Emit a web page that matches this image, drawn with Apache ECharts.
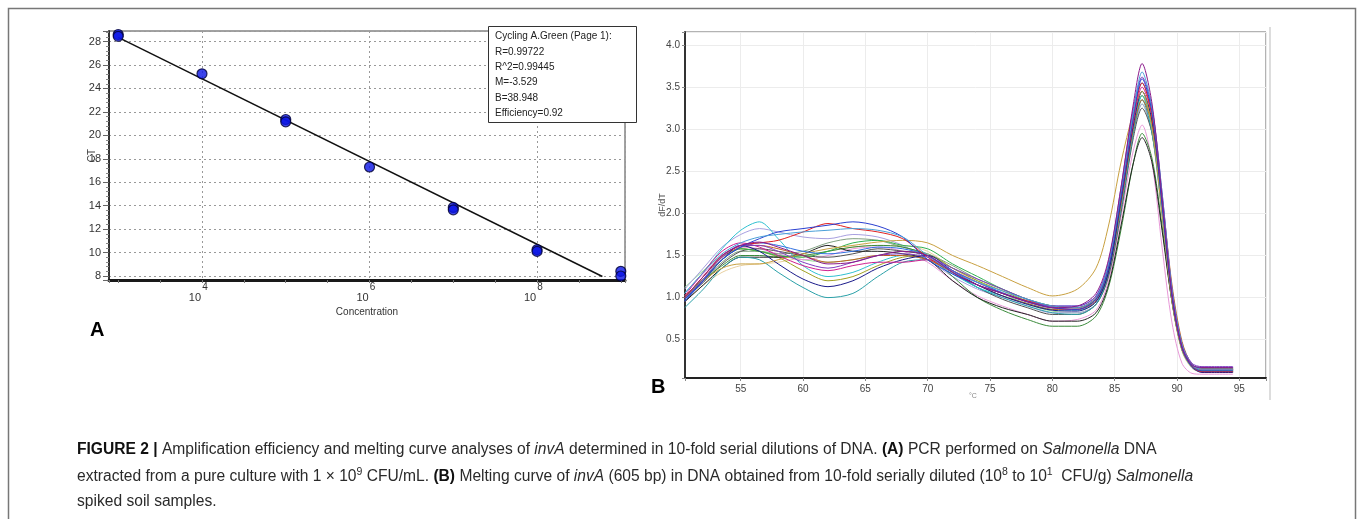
<!DOCTYPE html>
<html><head><meta charset="utf-8">
<script src="https://cdn.jsdelivr.net/npm/echarts@6/dist/echarts.min.js"></script>
<style>html,body{margin:0;padding:0;background:#fff}#c{width:1357px;height:519px}</style>
</head><body><div id="c"></div>
<script>
// ---------- Panel A: standard curve ----------
const A_LOG_CONC = [3, 3, 4, 5, 5, 6, 7, 7, 8, 8, 9, 9];
const A_CT = [28.6, 28.45, 25.25, 21.35, 21.15, 17.3, 13.85, 13.65, 10.25, 10.1, 8.4, 8.0];
const A_FIT_X = [3, 8.78];
const A_FIT_Y = [28.36, 7.96];
const A_BOX_LINES = ['Cycling A.Green (Page 1):', 'R=0.99722', 'R^2=0.99445', 'M=-3.529', 'B=38.948', 'Efficiency=0.92'];

// ---------- Panel B: melting curves ----------
const B_TEMP = [50.5, 52, 53.5, 55, 56.5, 58, 60, 62, 64, 66, 68, 70, 72, 74, 76, 78, 80, 82, 83.5, 84.5, 85.5, 86.5, 87.2, 88, 88.8, 89.6, 90.4, 91.2, 92, 93, 94.5];
const B_C01 = [1.0,1.25,1.5,1.62,1.66,1.6,1.5,1.4,1.42,1.5,1.55,1.5,1.3,1.15,1.05,0.95,0.88,0.9,1.05,1.45,2.3,3.3,3.78,3.3,2.2,1.05,0.42,0.2,0.17,0.17,0.17];
const B_C02 = [1.05,1.3,1.52,1.65,1.72,1.75,1.78,1.8,1.82,1.8,1.72,1.5,1.3,1.18,1.08,0.98,0.9,0.88,1.0,1.4,2.25,3.2,3.68,3.25,2.25,1.1,0.45,0.2,0.15,0.15,0.15];
const B_C03 = [0.98,1.2,1.45,1.6,1.7,1.78,1.82,1.86,1.9,1.85,1.72,1.45,1.28,1.15,1.05,0.95,0.88,0.86,0.98,1.35,2.2,3.15,3.6,3.2,2.1,1.0,0.4,0.18,0.13,0.13,0.13];
const B_C04 = [1.0,1.2,1.35,1.4,1.4,1.45,1.52,1.58,1.62,1.66,1.68,1.65,1.5,1.38,1.25,1.12,1.02,1.1,1.35,1.85,2.6,3.2,3.45,3.0,2.0,0.95,0.38,0.18,0.15,0.15,0.15];
const B_C05 = [1.05,1.3,1.58,1.8,1.9,1.7,1.38,1.25,1.3,1.42,1.5,1.45,1.28,1.12,1.02,0.93,0.86,0.85,0.95,1.3,2.1,3.0,3.4,3.0,2.05,1.0,0.4,0.18,0.14,0.14,0.14];
const B_C06 = [0.88,1.1,1.35,1.48,1.45,1.3,1.12,1.0,1.05,1.25,1.42,1.45,1.3,1.12,1.0,0.9,0.82,0.8,0.92,1.28,2.05,2.95,3.35,2.95,2.0,0.98,0.38,0.17,0.12,0.12,0.12];
const B_C07 = [0.95,1.15,1.35,1.48,1.48,1.48,1.52,1.62,1.55,1.55,1.52,1.45,1.2,1.0,0.88,0.8,0.72,0.72,0.82,1.15,1.85,2.6,2.9,2.6,1.8,0.95,0.4,0.2,0.16,0.16,0.16];
const B_C08 = [1.0,1.2,1.38,1.5,1.5,1.48,1.5,1.55,1.6,1.62,1.6,1.5,1.25,1.0,0.85,0.74,0.66,0.66,0.78,1.12,1.8,2.6,2.95,2.65,1.85,0.95,0.38,0.18,0.14,0.14,0.14];
const B_C09 = [1.0,1.25,1.5,1.62,1.65,1.68,1.78,1.88,1.82,1.78,1.7,1.48,1.3,1.15,1.05,0.96,0.9,0.88,1.0,1.38,2.25,3.15,3.55,3.15,2.15,1.02,0.4,0.18,0.12,0.12,0.12];
const B_C10 = [1.02,1.3,1.55,1.65,1.6,1.5,1.38,1.32,1.38,1.42,1.42,1.45,1.32,1.18,1.05,0.95,0.88,0.86,0.98,1.38,2.2,3.1,3.5,3.15,2.2,1.08,0.42,0.2,0.15,0.15,0.15];
const B_C11 = [0.95,1.2,1.45,1.62,1.55,1.4,1.22,1.13,1.2,1.35,1.45,1.5,1.32,1.15,1.02,0.92,0.85,0.84,0.95,1.3,2.15,3.05,3.45,3.1,2.15,1.05,0.42,0.18,0.11,0.11,0.11];
const B_C12 = [1.1,1.35,1.6,1.75,1.82,1.78,1.72,1.7,1.75,1.72,1.62,1.45,1.25,1.1,1.0,0.9,0.82,0.82,0.92,1.28,2.05,2.95,3.3,2.95,2.0,0.98,0.38,0.17,0.13,0.13,0.13];
const B_C13 = [1.05,1.28,1.5,1.6,1.58,1.52,1.45,1.5,1.58,1.6,1.55,1.42,1.2,1.02,0.9,0.8,0.72,0.74,0.85,1.2,1.95,2.75,3.05,2.6,1.6,0.7,0.22,0.1,0.09,0.09,0.09];
const B_C14 = [1.12,1.32,1.5,1.58,1.55,1.5,1.45,1.42,1.45,1.5,1.55,1.52,1.35,1.2,1.05,0.92,0.84,0.82,0.92,1.25,2.05,2.95,3.3,2.95,2.05,1.0,0.4,0.18,0.14,0.14,0.14];
const B_C15 = [0.95,1.15,1.3,1.38,1.4,1.42,1.48,1.55,1.6,1.62,1.62,1.55,1.35,1.18,1.05,0.95,0.88,0.88,1.0,1.35,2.2,3.05,3.35,2.95,1.95,0.95,0.36,0.16,0.12,0.12,0.12];
const B_C16 = [1.0,1.2,1.42,1.55,1.55,1.52,1.55,1.65,1.7,1.68,1.6,1.52,1.38,1.22,1.1,0.98,0.9,0.88,0.98,1.32,2.15,3.05,3.4,3.05,2.1,1.02,0.4,0.18,0.14,0.14,0.14];
const B_C17 = [0.98,1.22,1.48,1.62,1.62,1.55,1.42,1.35,1.42,1.5,1.52,1.48,1.35,1.22,1.1,0.98,0.9,0.9,1.02,1.42,2.3,3.25,3.62,3.25,2.25,1.1,0.45,0.22,0.18,0.18,0.18];
const B_C18 = [1.0,1.25,1.48,1.6,1.62,1.58,1.5,1.42,1.45,1.5,1.5,1.45,1.3,1.15,1.02,0.93,0.86,0.86,0.96,1.3,2.1,3.0,3.35,3.05,2.2,1.15,0.48,0.2,0.12,0.12,0.12];
const B_C19 = [1.02,1.22,1.45,1.58,1.55,1.48,1.32,1.2,1.25,1.38,1.48,1.5,1.35,1.2,1.08,0.96,0.88,0.86,0.98,1.35,2.2,3.1,3.4,3.05,2.1,1.02,0.4,0.18,0.13,0.13,0.13];
const B_C20 = [0.96,1.2,1.45,1.6,1.65,1.62,1.55,1.52,1.55,1.6,1.58,1.5,1.32,1.18,1.06,0.96,0.9,0.9,1.02,1.4,2.25,3.2,3.55,3.2,2.2,1.05,0.42,0.2,0.17,0.17,0.17];
const B_C21 = [1.0,1.22,1.45,1.58,1.55,1.5,1.48,1.55,1.65,1.68,1.62,1.58,1.4,1.25,1.1,0.98,0.9,0.88,0.98,1.35,2.2,3.1,3.45,3.1,2.15,1.05,0.42,0.2,0.15,0.15,0.15];
const B_C22 = [0.98,1.18,1.4,1.55,1.58,1.55,1.5,1.48,1.52,1.58,1.55,1.5,1.3,1.12,0.98,0.88,0.8,0.8,0.92,1.25,2.0,2.9,3.25,2.95,2.1,1.08,0.45,0.2,0.15,0.15,0.15];
const B_CURVES = [B_C15,B_C14,B_C13,B_C12,B_C16,B_C19,B_C22,B_C08,B_C07,B_C06,B_C05,B_C18,B_C21,B_C11,B_C04,B_C10,B_C20,B_C09,B_C17,B_C03,B_C02,B_C01];
const B_COLORS = ['#e8d0a0','#90d890','#e898d8','#a8a0e0','#80a080','#a0a020','#505050','#3a8a3a','#222222','#2aa0a8','#30c0d0','#c06020','#30b050','#1a1a8a','#c8a040','#d02090','#3070e0','#e02020','#8040c0','#2a3fd0','#4a9fd8','#8b1a8b'];

// ---------- Caption ----------
const CAPTION_LINES = [
  '{b|FIGURE 2 |} Amplification efficiency and melting curve analyses of {i|invA} determined in 10-fold serial dilutions of DNA. {b|(A)} PCR performed on {i|Salmonella} DNA',
  'extracted from a pure culture with 1 \u00d7 10{sup|9} CFU/mL. {b|(B)} Melting curve of {i|invA} (605 bp) in DNA obtained from 10-fold serially diluted (10{sup|8} to 10{sup|1}  CFU/g) {i|Salmonella}',
  'spiked soil samples.'
];

const F = '"Liberation Sans", Arial, sans-serif';
const FN = '"Liberation Sans Narrow", "Liberation Sans", Arial, sans-serif';
const CAP_FS = 15.6;

const chart = echarts.init(document.getElementById('c'), null, {renderer: 'canvas'});

const isMult = (v, m) => Math.abs(v / m - Math.round(v / m)) < 1e-6;

const series = [];
series.push({
  type: 'line', xAxisIndex: 0, yAxisIndex: 0, silent: true, showSymbol: false,
  data: A_FIT_X.map((x, i) => [x, A_FIT_Y[i]]),
  lineStyle: {color: '#111', width: 1.5}, z: 3
});
series.push({
  type: 'scatter', xAxisIndex: 0, yAxisIndex: 0, silent: true,
  data: A_LOG_CONC.map((x, i) => [x, A_CT[i]]),
  symbolSize: 10, itemStyle: {color: '#0a14e6', borderColor: '#000033', borderWidth: 1.2}, z: 4
});
B_CURVES.forEach((c, k) => {
  series.push({
    type: 'line', xAxisIndex: 2, yAxisIndex: 1, silent: true, showSymbol: false, smooth: 0.3,
    data: B_TEMP.map((t, i) => [t, c[i]]),
    lineStyle: {color: B_COLORS[k], width: 1}, z: 2
  });
});

const capRich = {
  b: {fontWeight: 'bold', fontSize: CAP_FS, fontFamily: FN, lineHeight: 20, fill: '#111'},
  i: {fontStyle: 'italic', fontSize: CAP_FS, fontFamily: FN, lineHeight: 20, fill: '#2a2a2a'},
  sup: {fontSize: 10.5, fontFamily: FN, lineHeight: 20, verticalAlign: 'top', fill: '#2a2a2a'}
};
const capY = [450, 477, 502];

const graphics = [
  {type: 'rect', shape: {x: 8.5, y: 8.5, width: 1347, height: 530}, style: {fill: 'none', stroke: '#777', lineWidth: 1.5}, silent: true, z: 0},
  {type: 'line', shape: {x1: 1270, y1: 27, x2: 1270, y2: 400}, style: {stroke: '#dddddd', lineWidth: 2}, silent: true},
  {type: 'rect', shape: {x: 488.5, y: 26.5, width: 148, height: 96}, style: {fill: '#fff', stroke: '#333', lineWidth: 1}, z: 100, silent: true},
  {type: 'text', x: 90, y: 330, style: {text: 'A', font: 'bold 20px ' + F, fill: '#000', verticalAlign: 'middle'}, silent: true},
  {type: 'text', x: 651, y: 387, style: {text: 'B', font: 'bold 20px ' + F, fill: '#000', verticalAlign: 'middle'}, silent: true},
  {type: 'text', x: 969, y: 396, style: {text: '\u00b0C', font: '7px ' + F, fill: '#888', verticalAlign: 'middle'}, silent: true}
];
A_BOX_LINES.forEach((t, i) => {
  graphics.push({type: 'text', x: 495, y: 36.7 + i * 15.3, z: 101, silent: true,
    style: {text: t, font: '10px ' + FN, fill: '#222', verticalAlign: 'middle'}});
});
CAPTION_LINES.forEach((t, i) => {
  graphics.push({type: 'text', x: 77, y: capY[i], silent: true,
    style: {text: t, fontSize: CAP_FS, fontFamily: FN, lineHeight: 20, fill: '#2a2a2a', verticalAlign: 'middle', rich: capRich}});
});

chart.setOption({
  animation: false,
  backgroundColor: '#fff',
  grid: [
    {left: 109, top: 31, width: 516, height: 249, show: true, borderColor: '#444', borderWidth: 1, backgroundColor: '#fff'},
    {left: 685, top: 32, width: 581, height: 346, show: true, borderColor: '#666', borderWidth: 1, backgroundColor: '#fff'}
  ],
  xAxis: [
    {gridIndex: 0, type: 'value', min: 2.89, max: 9.05, minInterval: 0.5, maxInterval: 0.5,
      axisLine: {show: true, onZero: false, lineStyle: {color: '#1a1a1a', width: 3}},
      axisTick: {show: true, length: 3, lineStyle: {color: '#777'}},
      splitLine: {show: false},
      axisLabel: {margin: 3, color: '#333',
        formatter: v => isMult(v, 2) ? '{s|' + Math.round(v) + '}\n{b|10}' : '',
        rich: {s: {fontSize: 10, fontFamily: F, color: '#333', padding: [0, 0, 0, 6], lineHeight: 9},
               b: {fontSize: 11, fontFamily: F, color: '#333', padding: [0, 14, 0, 0], lineHeight: 11}}},
      name: 'Concentration', nameLocation: 'middle', nameGap: 27, nameMoveOverlap: false,
      nameTextStyle: {fontSize: 10, fontFamily: F, color: '#333'}},
    {gridIndex: 0, type: 'value', position: 'top', min: 2.89, max: 9.05, minInterval: 2, maxInterval: 2,
      axisLine: {show: false}, axisTick: {show: false}, axisLabel: {show: false},
      splitLine: {show: true, lineStyle: {color: '#999', type: [2, 3], width: 1}}},
    {gridIndex: 1, type: 'value', min: 50.53, max: 97.14, minInterval: 5, maxInterval: 5,
      axisLine: {show: true, onZero: false, lineStyle: {color: '#222', width: 2}},
      axisTick: {show: true, length: 3, lineStyle: {color: '#888'}},
      splitLine: {show: true, lineStyle: {color: '#ececec', width: 1}},
      axisLabel: {margin: 6, fontSize: 10, fontFamily: F, color: '#444', formatter: v => isMult(v, 5) ? String(Math.round(v)) : ''}}
  ],
  yAxis: [
    {gridIndex: 0, type: 'value', min: 7.66, max: 28.9, minInterval: 2, maxInterval: 2,
      axisLine: {show: true, onZero: false, lineStyle: {color: '#333', width: 2}},
      axisTick: {show: true, length: 6, lineStyle: {color: '#666'}},
      minorTick: {show: true, splitNumber: 5, length: 3, lineStyle: {color: '#888'}},
      splitLine: {show: true, lineStyle: {color: '#999', type: [2, 3], width: 1}},
      axisLabel: {margin: 8, fontSize: 11, fontFamily: F, color: '#333', formatter: v => isMult(v, 2) ? String(Math.round(v)) : ''},
      name: 'CT', nameLocation: 'middle', nameGap: 12, nameMoveOverlap: false,
      nameTextStyle: {fontSize: 10, fontFamily: F, color: '#444'}},
    {gridIndex: 1, type: 'value', min: 0.045, max: 4.155, minInterval: 0.5, maxInterval: 0.5,
      axisLine: {show: true, onZero: false, lineStyle: {color: '#333', width: 2}},
      axisTick: {show: true, length: 3, lineStyle: {color: '#888'}},
      splitLine: {show: true, lineStyle: {color: '#ececec', width: 1}},
      axisLabel: {margin: 5, fontSize: 10, fontFamily: F, color: '#444', formatter: v => isMult(v, 0.5) ? v.toFixed(1) : ''},
      name: 'dF/dT', nameLocation: 'middle', nameGap: 18, nameMoveOverlap: false,
      nameTextStyle: {fontSize: 9, fontFamily: F, color: '#555'}}
  ],
  series: series,
  graphic: graphics
});
</script>
</body></html>
